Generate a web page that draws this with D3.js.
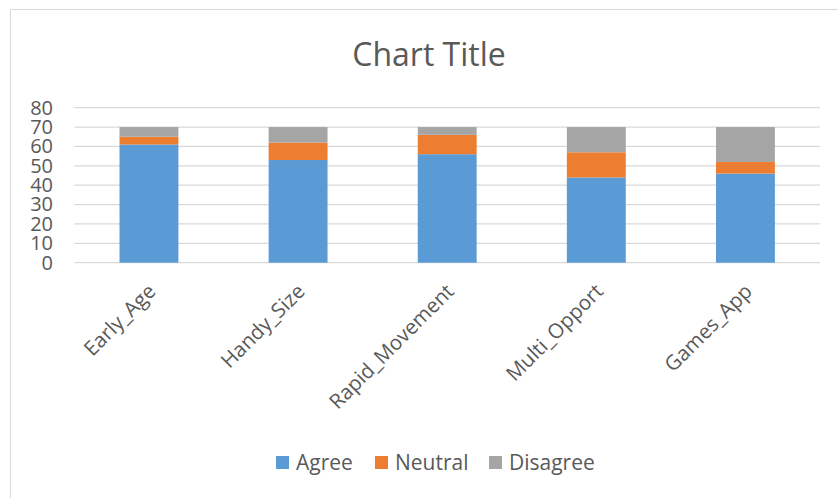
<!DOCTYPE html>
<html><head><meta charset="utf-8">
<script src="https://cdn.jsdelivr.net/npm/d3@7"></script>
<style>body{margin:0;background:#fff}svg{display:block}text{font-family:"Open Sans",sans-serif;fill:#595959}</style>
</head><body><svg width="838" height="498"></svg>
<script>
const categories = ["Early_Age","Handy_Size","Rapid_Movement","Multi_Opport","Games_App"];
const agree = [61,53,56,44,46];
const neutral = [4,9,10,13,6];
const disagree = [5,8,4,13,18];
const seriesNames = ["Agree","Neutral","Disagree"];
const colors = ["#5b9bd5","#ed7d31","#a5a5a5"];
const yTicks = [0,10,20,30,40,50,60,70,80];

const svg = d3.select("svg");
svg.append("rect").attr("x",10.5).attr("y",9.5).attr("width",840).attr("height",500)
  .attr("fill","#fff").attr("stroke","#d9d9d9").attr("stroke-width",1);

const x = d3.scaleBand().domain(categories).range([74.4,820]).paddingInner(0.605).paddingOuter(0.3025);
const y = d3.scaleLinear().domain([0,80]).range([262.7,107.7]);

svg.append("text").attr("x",429).attr("y",66).attr("text-anchor","middle")
  .style("font-size","32px").text("Chart Title");

const yAxis = d3.axisLeft(y).tickValues(yTicks).tickSize(0).tickPadding(0);
const gy = svg.append("g").attr("transform","translate(53,0)").call(yAxis);
gy.select(".domain").remove();
gy.selectAll("text").style("font-size","20px").attr("fill","#595959").style("font-family","Open Sans");

svg.append("g").selectAll("line").data(yTicks).join("line")
  .attr("x1",74.4).attr("x2",820).attr("y1",d=>y(d)).attr("y2",d=>y(d))
  .attr("stroke","#d9d9d9").attr("stroke-width",1.3);

const rows = categories.map((c,i)=>({cat:c,Agree:agree[i],Neutral:neutral[i],Disagree:disagree[i]}));
const stacked = d3.stack().keys(seriesNames)(rows);
svg.append("g").selectAll("g").data(stacked).join("g").attr("fill",(d,i)=>colors[i])
  .selectAll("rect").data(d=>d).join("rect")
  .attr("x",d=>x(d.data.cat)).attr("width",x.bandwidth())
  .attr("y",d=>y(d[1])).attr("height",d=>y(d[0])-y(d[1]));

const xAxis = d3.axisBottom(x).tickSize(0).tickPadding(0);
const gx = svg.append("g").attr("transform","translate(0,262.7)").call(xAxis);
gx.select(".domain").remove();
gx.selectAll("text").style("font-size","20.5px").attr("fill","#595959").style("font-family","Open Sans")
  .attr("text-anchor","end").attr("dy",0).attr("y",0)
  .attr("transform","translate(8,30) rotate(-45)");

const legendX = [276,375,489];
const lg = svg.append("g").selectAll("g").data(seriesNames).join("g")
  .attr("transform",(d,i)=>`translate(${legendX[i]},456)`);
lg.append("rect").attr("width",13).attr("height",13).attr("fill",(d,i)=>colors[i]);
lg.append("text").attr("x",20).attr("y",14).style("font-size","21px").text(d=>d);
</script></body></html>
